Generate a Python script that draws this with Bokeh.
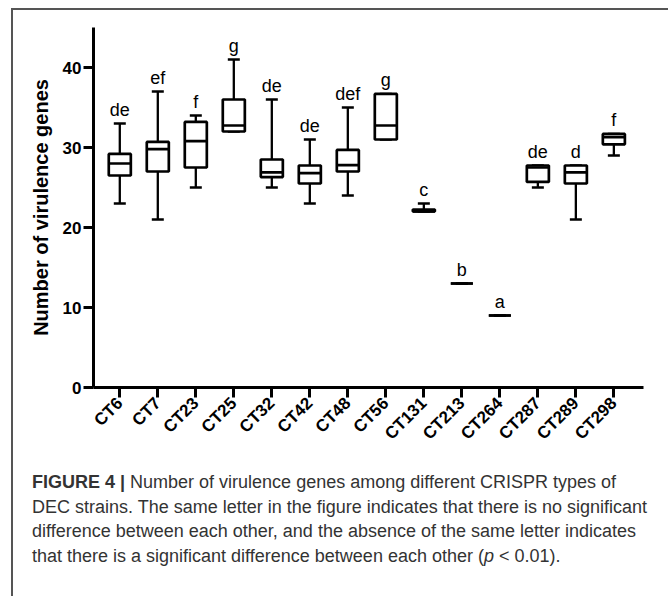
import math
import numpy as np
from bokeh.plotting import figure
from bokeh.models import Range1d, FixedTicker, Div, ColumnDataSource, Whisker, TeeHead
from bokeh.layouts import column
from bokeh.embed import file_html
from bokeh.resources import INLINE
from bokeh.core.properties import value

categories = ["CT6", "CT7", "CT23", "CT25", "CT32", "CT42", "CT48", "CT56",
              "CT131", "CT213", "CT264", "CT287", "CT289", "CT298"]
mins = [23, 21, 25, 32, 25, 23, 24, 31, 22, 13, 9, 25, 21, 29]
q1s = [26.5, 27, 27.5, 32, 26.3, 25.5, 27, 31, 22, 13, 9, 25.7, 25.5, 30.4]
medians = [28, 29.8, 30.8, 32.75, 26.9, 26.8, 27.8, 32.75, 22, 13, 9, 27.5, 26.9, 31.3]
q3s = [29.2, 30.7, 33.2, 36, 28.5, 27.75, 29.7, 36.7, 22.25, 13, 9, 27.75, 27.75, 31.7]
maxs = [33, 37, 34, 41, 36, 31, 35, 36.7, 23, 13, 9, 27.75, 27.75, 31.7]
letters = ["de", "ef", "f", "g", "de", "de", "def", "g", "c", "b", "a", "de", "d", "f"]
y_ticks = [0, 10, 20, 30, 40]

xs = np.arange(len(categories))
box_w = 0.58
src = ColumnDataSource(dict(
    x=xs, lo=mins, q1=q1s, med=medians, q3=q3s, hi=maxs, lab=letters,
    ml=xs - box_w / 2, mr=xs + box_w / 2,
))

FONT = "Liberation Sans"

p = figure(width=655, height=447, x_range=Range1d(-0.692, 13.78), y_range=Range1d(0, 45),
           output_backend="svg", toolbar_location=None,
           min_border_left=80, min_border_right=25, min_border_top=17, min_border_bottom=70)
p.xgrid.visible = False
p.ygrid.visible = False
p.outline_line_color = None
p.background_fill_color = "white"
p.border_fill_color = "white"

# whiskers
upper = Whisker(base="x", lower="q3", upper="hi", source=src, dimension="height",
                line_width=2.3, line_color="black",
                upper_head=TeeHead(size=12, line_width=2.3, line_color="black"), lower_head=None)
lower = Whisker(base="x", lower="lo", upper="q1", source=src, dimension="height",
                line_width=2.3, line_color="black",
                lower_head=TeeHead(size=12, line_width=2.3, line_color="black"), upper_head=None)
p.add_layout(upper)
p.add_layout(lower)

p.vbar(x="x", width=box_w, bottom="q1", top="q3", source=src,
       fill_color="white", line_color="black", line_width=2.7)
p.segment(x0="ml", x1="mr", y0="med", y1="med", source=src, line_color="black", line_width=2.7)

p.text(x="x", y="hi", text="lab", source=src, text_align="center", text_baseline="alphabetic",
       y_offset=-14, text_font=value(FONT), text_font_size="18px", text_color="black")

for ax in (p.xaxis[0], p.yaxis[0]):
    ax.axis_line_width = 3
    ax.axis_line_color = "black"
    ax.major_tick_line_width = 3
    ax.major_tick_line_color = "black"
    ax.major_tick_out = 10
    ax.major_tick_in = 0
    ax.minor_tick_line_color = None
    ax.major_label_text_font = FONT
    ax.major_label_text_font_style = "bold"
    ax.major_label_text_color = "black"

p.xaxis.ticker = FixedTicker(ticks=list(xs))
p.xaxis.major_label_overrides = {int(i): c for i, c in zip(xs, categories)}
p.xaxis.major_label_orientation = math.pi / 4
p.xaxis.major_label_text_font_size = "17px"
p.xaxis.major_label_standoff = 3

p.yaxis.ticker = FixedTicker(ticks=y_ticks)
p.yaxis.major_label_text_font_size = "17px"
p.yaxis.major_label_standoff = 2
p.yaxis.axis_label = "Number of virulence genes"
p.yaxis.axis_label_text_font = FONT
p.yaxis.axis_label_text_font_style = "bold"
p.yaxis.axis_label_text_font_size = "20px"
p.yaxis.axis_label_text_color = "black"
p.yaxis.axis_label_standoff = 8

caption = Div(text=("<b>FIGURE 4 |</b> Number of virulence genes among different CRISPR types of<br>"
                    "DEC strains. The same letter in the figure indicates that there is no significant<br>"
                    "difference between each other, and the absence of the same letter indicates<br>"
                    "that there is a significant difference between each other (<i>p</i> &lt; 0.01)."),
              width=655, height=139,
              styles={"font-family": FONT, "font-size": "18px", "line-height": "24.5px",
                      "color": "#333333", "padding-left": "14px", "padding-top": "8px",
                      "white-space": "nowrap", "box-sizing": "border-box"})

layout = column(p, caption, margin=(8, 0, 0, 11),
                styles={"border-top": "2px solid #555555", "border-left": "2px solid #555555"})

open("out.html", "w").write(file_html(layout, INLINE))
